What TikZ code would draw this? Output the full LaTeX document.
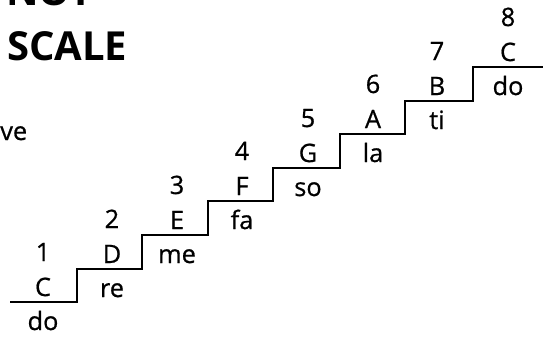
\documentclass[tikz,border=0pt]{standalone}
\usepackage{fontspec}
\setmainfont{Open Sans}
\newfontfamily\lblfont{Open Sans}[FakeBold=0.7]
\begin{document}
\begin{tikzpicture}[x=0.75pt,y=-0.75pt,
  lbl/.style={anchor=base,inner sep=0pt,font=\lblfont\fontsize{19}{19}\selectfont},
  title/.style={anchor=base west,inner sep=0pt,font=\fontsize{30}{30}\selectfont\bfseries},
  stair/.style={line width=1.9pt,line join=miter}]
\useasboundingbox (0,0) rectangle (543,337);
% cut-off heading at the top edge
\begin{scope}
  \clip (0,0) rectangle (140,8);
  \node[title] (head) at (6,5) {NOT};
\end{scope}
\node[title] (scale) at (7,60) {SCALE};
\node[anchor=base west,inner sep=0pt,font=\lblfont\fontsize{19}{19}\selectfont] (ve) at (0,140) {ve};
% staircase
\coordinate (s0) at (10,302);
\coordinate (a1) at (77,302);  \coordinate (b1) at (77,269);
\coordinate (a2) at (142,269); \coordinate (b2) at (142,235);
\coordinate (a3) at (208,235); \coordinate (b3) at (208,201);
\coordinate (a4) at (273,201); \coordinate (b4) at (273,168);
\coordinate (a5) at (340,168); \coordinate (b5) at (340,134);
\coordinate (a6) at (405,134); \coordinate (b6) at (405,101);
\coordinate (a7) at (473,101); \coordinate (b7) at (473,67);
\coordinate (e8) at (543,67);
\draw[stair] (s0) -- (a1) -- (b1) -- (a2) -- (b2) -- (a3) -- (b3) -- (a4) -- (b4)
  -- (a5) -- (b5) -- (a6) -- (b6) -- (a7) -- (b7) -- (e8);
% labels: number, letter, syllable
\foreach \i/\x/\y/\n/\s in {1/43/302/C/do, 2/112/269/D/re, 3/177/235/E/me,
  4/242/201/F/fa, 5/308/168/G/so, 6/373/134/A/la, 7/437/101/B/ti, 8/508/67/C/do}{
  \node[lbl] (num\i) at (\x,\y-41) {\i};
  \node[lbl] (let\i) at (\x,\y-6) {\n};
  \node[lbl] (syl\i) at (\x,\y+28) {\s};
}
\end{tikzpicture}
\end{document}
